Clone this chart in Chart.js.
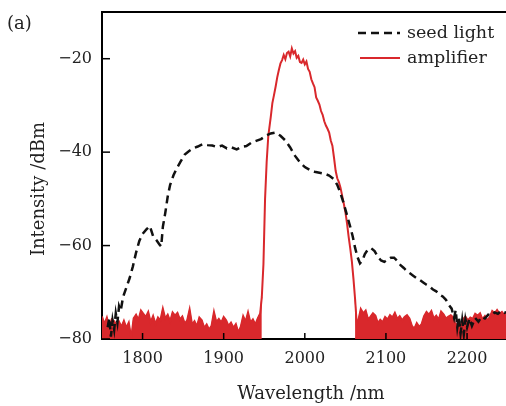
<!DOCTYPE html>
<html>
<head>
<meta charset="utf-8">
<script src="https://cdn.jsdelivr.net/npm/chart.js@4.4.0/dist/chart.umd.min.js"></script>
<style>
  body { margin: 0; background: #fff; }
  canvas { display: block; }
</style>
</head>
<body>
<canvas id="chart-spectrum" width="506" height="406"></canvas>
<script>
const xTicks = [1800, 1900, 2000, 2100, 2200];
const yTicks = [-80, -60, -40, -20];
const seriesNames = ["seed light", "amplifier"];

// [wavelength nm, intensity dBm]
const seedLight = [
  [1757, -77.5], [1759, -75.5], [1761, -79.5], [1763, -76], [1765, -78], [1767, -74.5],
  [1769, -76.5], [1771, -73], [1773, -74], [1776, -71], [1780, -69], [1784, -67],
  [1788, -64.5], [1792, -61.5], [1796, -59], [1800, -57.5], [1805, -56.5], [1809, -55.8],
  [1813, -58], [1817, -58.8], [1821, -59.8], [1823, -60.2], [1825, -56], [1828, -53],
  [1831, -49.5], [1834, -47], [1838, -45], [1842, -43.5], [1847, -42], [1852, -40.5],
  [1857, -39.8], [1862, -39.2], [1868, -38.8], [1874, -38.3], [1880, -38.5], [1886, -38.6],
  [1892, -38.9], [1898, -38.6], [1904, -39.2], [1910, -39.0], [1916, -39.4], [1922, -38.9],
  [1928, -38.7], [1934, -38.0], [1940, -37.6], [1946, -37.2], [1952, -36.5], [1958, -36.0],
  [1964, -35.8], [1970, -36.5], [1976, -37.5], [1982, -39], [1988, -40.8], [1994, -42.2],
  [2000, -43.2], [2006, -43.8], [2012, -44.2], [2018, -44.4], [2024, -44.6], [2030, -45.0],
  [2036, -45.8], [2040, -47], [2044, -48.8], [2048, -51], [2052, -53.5], [2056, -56],
  [2059, -58], [2062, -60.5], [2065, -62.5], [2068, -63.8], [2071, -63.2], [2074, -61.8],
  [2078, -60.8], [2082, -60.6], [2086, -61.2], [2090, -62.4], [2094, -63.2], [2098, -63.5],
  [2102, -63.0], [2106, -62.6], [2110, -62.6], [2114, -63.3], [2118, -64.2], [2122, -64.8],
  [2126, -65.5], [2130, -66.0], [2134, -66.5], [2138, -67.0], [2142, -67.4], [2146, -67.9],
  [2150, -68.4], [2154, -68.8], [2158, -69.4], [2162, -69.8], [2166, -70.5], [2170, -70.9],
  [2174, -71.6], [2178, -72.8], [2181, -73.5], [2184, -75.5], [2186, -73.8], [2188, -77.5],
  [2190, -75.2], [2192, -78.8], [2194, -76.0], [2196, -79.0], [2198, -75.8], [2200, -77.5],
  [2203, -75.6], [2206, -77.2], [2210, -75.5], [2214, -76.3], [2218, -75.2], [2222, -75.6],
  [2226, -74.8], [2230, -75.0], [2234, -74.3], [2238, -74.6], [2242, -74.0], [2246, -74.4],
  [2249, -74.2],
];

const amplifier = [
  [1750, -75.2], [1753, -76.8], [1756, -75.4], [1759, -77.5], [1762, -75.8], [1765, -76.2],
  [1768, -77.0], [1771, -76.3], [1774, -77.4], [1777, -76.1], [1780, -77.6], [1783, -76.5],
  [1786, -79.8], [1789, -75.6], [1792, -74.8], [1795, -75.9], [1798, -73.9], [1801, -74.6],
  [1804, -75.3], [1807, -74.2], [1810, -76.4], [1813, -75.1], [1816, -76.8], [1819, -75.4],
  [1822, -76.0], [1825, -73.5], [1828, -75.6], [1831, -74.8], [1834, -76.2], [1837, -74.3],
  [1840, -75.0], [1843, -74.4], [1846, -75.8], [1849, -75.2], [1852, -76.7], [1855, -76.0],
  [1858, -73.7], [1861, -76.9], [1864, -76.2], [1867, -77.3], [1870, -75.4], [1873, -76.0],
  [1876, -77.6], [1879, -76.9], [1882, -78.0], [1885, -77.2], [1888, -74.2], [1891, -76.4],
  [1894, -75.7], [1897, -76.5], [1900, -75.3], [1903, -76.0], [1906, -77.2], [1909, -76.5],
  [1912, -77.6], [1915, -76.8], [1918, -78.6], [1921, -77.4], [1924, -75.1], [1927, -76.3],
  [1930, -74.3], [1933, -76.5], [1936, -75.8], [1939, -76.9], [1942, -75.6], [1945, -74.5],
  [1947, -71], [1949, -64], [1951, -50], [1953, -42], [1955, -36.5], [1958, -32.5],
  [1960, -29.5], [1962, -27.8], [1964, -26], [1966, -24], [1968, -22.4], [1970, -21],
  [1972, -20.3], [1974, -19.2], [1976, -20.1], [1978, -18.8], [1980, -18.5], [1982, -19.5],
  [1984, -17.8], [1986, -18.9], [1988, -18.4], [1990, -19.8], [1992, -19.4], [1994, -20.7],
  [1996, -20.9], [1998, -20.2], [2000, -21.2], [2002, -20.6], [2004, -22.2], [2006, -22.8],
  [2008, -24.4], [2010, -25.3], [2012, -26.1], [2014, -28.3], [2016, -29.0], [2018, -29.8],
  [2020, -31.2], [2022, -32.0], [2024, -33.4], [2026, -34.3], [2028, -35.0], [2030, -35.8],
  [2032, -37.5], [2034, -38.6], [2036, -41.2], [2038, -44.0], [2040, -45.6], [2042, -46.4],
  [2044, -47.6], [2046, -49.3], [2048, -51.0], [2050, -52.8], [2052, -55.2], [2054, -58.1],
  [2056, -60.6], [2058, -63.4], [2060, -67.2], [2062, -71.5], [2064, -76.8],
  [2066, -76.0], [2069, -73.6], [2072, -74.5], [2075, -73.9], [2078, -75.8], [2081, -75.2],
  [2084, -74.5], [2087, -75.0], [2090, -76.6], [2093, -75.9], [2096, -76.4], [2099, -75.3],
  [2102, -75.8], [2105, -74.9], [2108, -75.4], [2111, -74.4], [2114, -75.7], [2117, -75.1],
  [2120, -76.0], [2123, -75.3], [2126, -74.9], [2129, -75.6], [2132, -77.2], [2135, -77.8],
  [2138, -76.6], [2141, -77.4], [2144, -76.8], [2147, -75.1], [2150, -74.2], [2153, -74.8],
  [2156, -74.0], [2159, -75.6], [2162, -75.0], [2165, -75.9], [2168, -74.1], [2171, -74.7],
  [2174, -75.6], [2177, -75.2], [2180, -74.9], [2183, -75.4], [2186, -77.1], [2189, -76.5],
  [2192, -77.3], [2195, -75.8], [2198, -75.2], [2201, -76.0], [2204, -75.4], [2207, -75.7],
  [2210, -74.6], [2213, -75.0], [2216, -74.5], [2219, -75.8], [2222, -75.1], [2225, -76.0],
  [2228, -75.3], [2231, -74.0], [2234, -74.5], [2237, -73.8], [2240, -74.6], [2243, -74.2],
  [2246, -74.9], [2249, -74.4],
];

const RED = "#d9282c";
const FONT = "'DejaVu Serif', serif";

function toPoints(arr) {
  return arr.map(function (p) {
    return { x: p[0], y: p[1] };
  });
}
// noise floor outside the gain band is so dense it reads as a filled area
const floorLeft = amplifier.filter((p) => p[0] <= 1947);
const floorRight = amplifier.filter((p) => p[0] >= 2062);

function minusLabel(v) {
  return v < 0 ? "\u2212" + Math.abs(v) : String(v);
}

const decorations = {
  id: "decorations",
  afterDraw(chart) {
    const ctx = chart.ctx;
    const area = chart.chartArea;
    const xs = chart.scales.x;
    const ys = chart.scales.y;
    ctx.save();
    ctx.strokeStyle = "#000";
    ctx.lineWidth = 2;
    // top frame line
    ctx.beginPath();
    ctx.moveTo(area.left - 1, area.top);
    ctx.lineTo(area.right, area.top);
    ctx.stroke();
    // inward tick marks
    ctx.lineWidth = 1.5;
    xTicks.forEach(function (v) {
      const px = xs.getPixelForValue(v);
      ctx.beginPath();
      ctx.moveTo(px, area.bottom);
      ctx.lineTo(px, area.bottom - 6);
      ctx.stroke();
    });
    yTicks.forEach(function (v) {
      const py = ys.getPixelForValue(v);
      ctx.beginPath();
      ctx.moveTo(area.left, py);
      ctx.lineTo(area.left + 8, py);
      ctx.stroke();
    });

    ctx.fillStyle = "#222";
    ctx.textBaseline = "middle";
    // axis titles
    ctx.font = "18px " + FONT;
    ctx.textAlign = "center";
    ctx.fillText("Wavelength /nm", 311, 394);
    ctx.save();
    ctx.translate(39, 189);
    ctx.rotate(-Math.PI / 2);
    ctx.fillText("Intensity /dBm", 0, 0);
    ctx.restore();
    // panel label
    ctx.textAlign = "left";
    ctx.fillText("(a)", 7, 24);

    // legend
    ctx.font = "17.5px " + FONT;
    ctx.strokeStyle = "#111";
    ctx.lineWidth = 2.5;
    ctx.setLineDash([8, 5]);
    ctx.beginPath();
    ctx.moveTo(358, 33);
    ctx.lineTo(400, 33);
    ctx.stroke();
    ctx.setLineDash([]);
    ctx.strokeStyle = RED;
    ctx.lineWidth = 2;
    ctx.beginPath();
    ctx.moveTo(360, 58);
    ctx.lineTo(400, 58);
    ctx.stroke();
    ctx.fillText(seriesNames[0], 407, 33);
    ctx.fillText(seriesNames[1], 407, 58);
    ctx.restore();
  },
};

new Chart(document.getElementById("chart-spectrum"), {
  type: "line",
  data: {
    datasets: [
      {
        label: seriesNames[0],
        data: toPoints(seedLight),
        borderColor: "#111",
        borderWidth: 2.5,
        borderDash: [8, 5],
        pointRadius: 0,
        tension: 0,
        fill: false,
        order: 0,
      },
      {
        label: seriesNames[1],
        data: toPoints(amplifier),
        borderColor: RED,
        borderWidth: 2,
        pointRadius: 0,
        tension: 0,
        fill: false,
        order: 1,
      },
      {
        label: "floor-left",
        data: toPoints(floorLeft),
        borderColor: RED,
        backgroundColor: RED,
        borderWidth: 1,
        pointRadius: 0,
        tension: 0,
        fill: "start",
        order: 2,
      },
      {
        label: "floor-right",
        data: toPoints(floorRight),
        borderColor: RED,
        backgroundColor: RED,
        borderWidth: 1,
        pointRadius: 0,
        tension: 0,
        fill: "start",
        order: 2,
      },
    ],
  },
  options: {
    responsive: false,
    animation: false,
    layout: { padding: { left: 0, top: 12, right: 0, bottom: 0 } },
    plugins: {
      legend: { display: false },
      tooltip: { enabled: false },
    },
    scales: {
      x: {
        type: "linear",
        min: 1750,
        max: 2248,
        afterBuildTicks: function (scale) {
          scale.ticks = xTicks.map((v) => ({ value: v }));
        },
        afterFit: function (scale) {
          scale.height = 67;
          scale.paddingLeft = 0;
          scale.paddingRight = 0;
        },
        grid: { display: false, drawTicks: false },
        border: { display: true, color: "#000", width: 2 },
        ticks: {
          color: "#222",
          padding: 10,
          maxRotation: 0,
          font: { family: FONT, size: 16 },
          callback: (v) => String(v),
        },
      },
      y: {
        min: -80,
        max: -10,
        afterBuildTicks: function (scale) {
          scale.ticks = yTicks.map((v) => ({ value: v }));
        },
        afterFit: function (scale) {
          scale.width = 102;
          scale.paddingTop = 0;
          scale.paddingBottom = 0;
        },
        grid: { display: false, drawTicks: false },
        border: { display: true, color: "#000", width: 2 },
        ticks: {
          color: "#222",
          padding: 10,
          font: { family: FONT, size: 16 },
          callback: minusLabel,
        },
      },
    },
  },
  plugins: [decorations],
});
</script>
</body>
</html>
